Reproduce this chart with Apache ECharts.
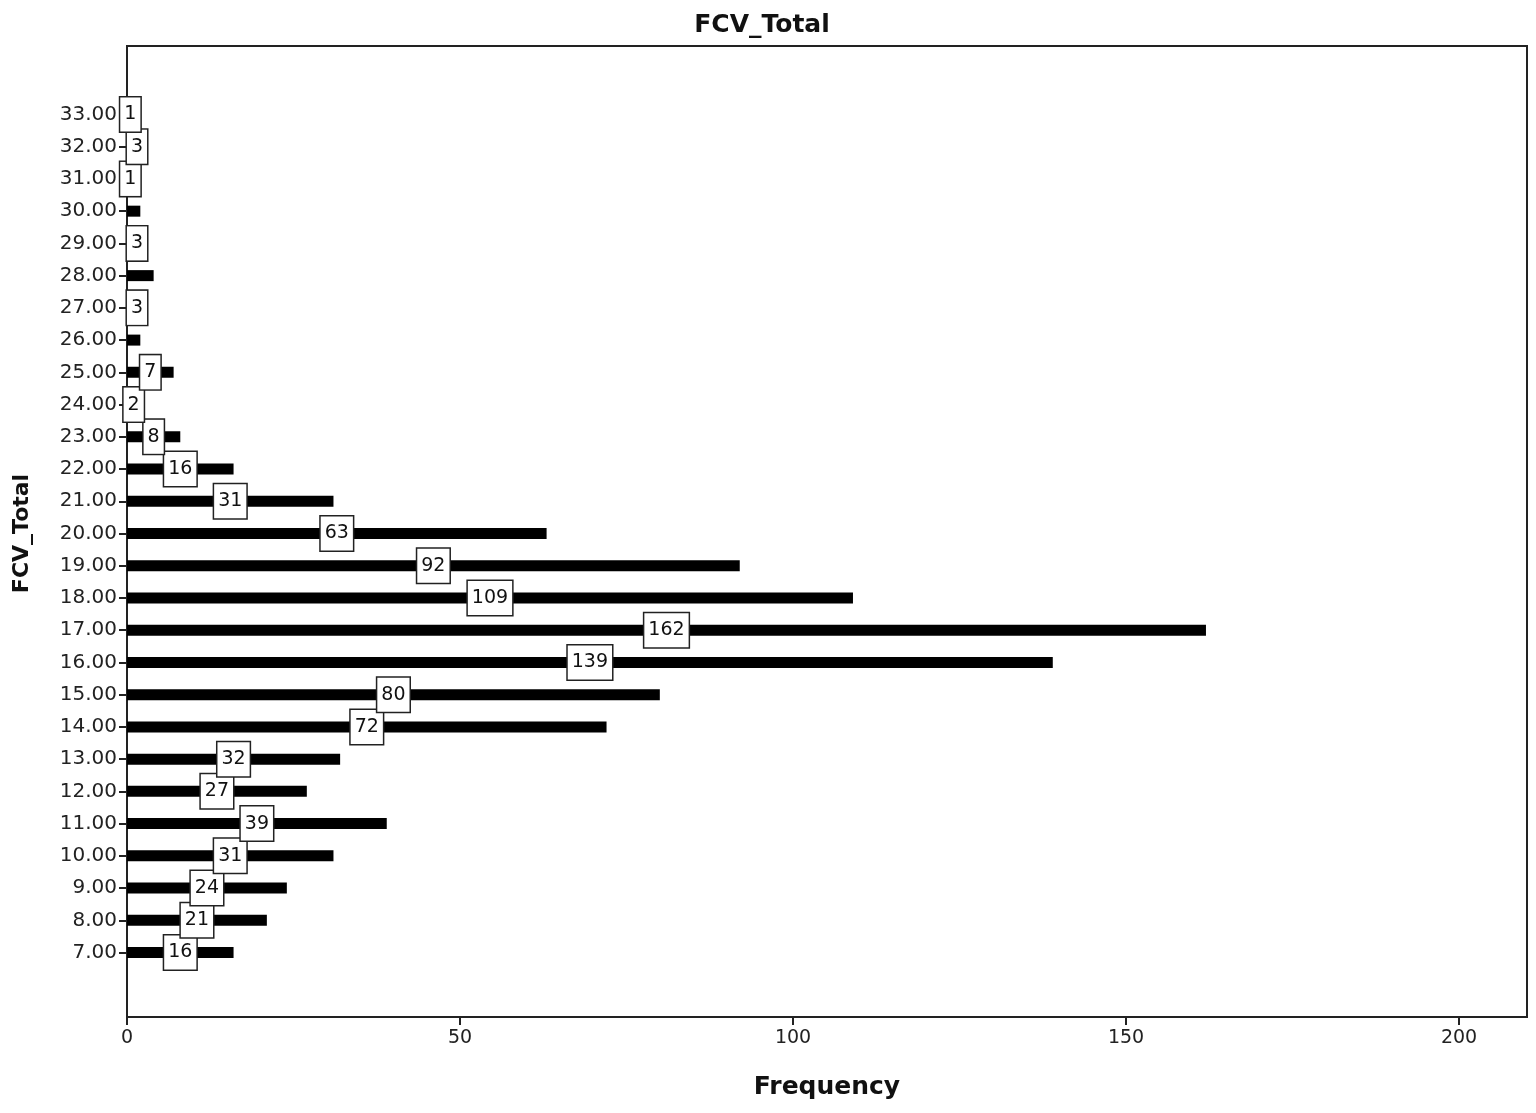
<!DOCTYPE html>
<html lang="en">
<head>
    <meta charset="UTF-8" />
    <title>FCV_Total</title>
    <script src="https://cdn.jsdelivr.net/npm/echarts@6/dist/echarts.min.js"></script>
    <style>
        html, body { margin: 0; padding: 0; background: #fff; }
        #chart { width: 1536px; height: 1113px; }
    </style>
</head>
<body>
    <div id="chart"></div>
    <script>
        // FCV_Total scores and how often each one occurs
        const scores = [7, 8, 9, 10, 11, 12, 13, 14, 15, 16, 17, 18, 19, 20,
                        21, 22, 23, 24, 25, 26, 27, 28, 29, 30, 31, 32, 33];
        const frequency = [16, 21, 24, 31, 39, 27, 32, 72, 80, 139, 162, 109, 92, 63,
                           31, 16, 8, 2, 7, 2, 3, 4, 3, 2, 1, 3, 1];
        // scores whose bar carries no count box in the original
        const unlabeled = [26, 28, 30];
        // empty rows the axis leaves below and above the data
        const padBelow = [5, 6];
        const padAbove = [34, 35];
        const xTicks = [0, 50, 100, 150, 200];

        const font = '"DejaVu Sans", Verdana, sans-serif';
        const chart = echarts.init(document.getElementById('chart'));

        const rows = padBelow.concat(scores, padAbove);
        const categories = rows.map(s => s.toFixed(2));
        const isScore = (idx) => scores.includes(rows[idx]);

        const barData = rows.map(s => {
            const i = scores.indexOf(s);
            if (i < 0) return '-';
            return { value: frequency[i], label: { show: !unlabeled.includes(s) } };
        });

        chart.setOption({
            animation: false,
            title: {
                text: 'FCV_Total',
                left: 757, top: 8, textAlign: 'center',
                textStyle: { fontFamily: font, fontSize: 25, fontWeight: 'bold', color: '#111' }
            },
            grid: [
                // outer frame of the plot
                { left: 127, right: 9, top: 46, bottom: 96,
                  show: true, borderColor: '#222', borderWidth: 2 },
                // data area (slightly shorter at the top)
                { left: 127, right: 9, top: 50, bottom: 96 }
            ],
            xAxis: {
                gridIndex: 1,
                type: 'value', min: 0, max: 210.2,
                splitLine: { show: false },
                axisLine: { show: true, lineStyle: { color: '#222', width: 2 } },
                axisTick: { show: true, length: 8, lineStyle: { color: '#222', width: 2 },
                    customValues: xTicks },
                axisLabel: { fontFamily: font, fontSize: 19, color: '#222', margin: 12,
                    customValues: xTicks },
                name: 'Frequency', nameLocation: 'middle', nameGap: 58,
                nameTextStyle: { fontFamily: font, fontSize: 25, fontWeight: 'bold', color: '#111' }
            },
            yAxis: {
                gridIndex: 1,
                type: 'category', data: categories, boundaryGap: false,
                axisLine: { show: true, lineStyle: { color: '#222', width: 2 } },
                axisTick: { show: true, length: 8, lineStyle: { color: '#222', width: 2 },
                    interval: (idx) => isScore(idx) },
                axisLabel: { fontFamily: font, fontSize: 20, color: '#222', margin: 10,
                    interval: (idx) => isScore(idx) },
                splitLine: { show: false },
                name: 'FCV_Total', nameLocation: 'middle', nameGap: 94, nameRotate: 90,
                nameTextStyle: { fontFamily: font, fontSize: 22, fontWeight: 'bold', color: '#111' }
            },
            series: [{
                type: 'bar',
                data: barData,
                barWidth: 11,
                itemStyle: { color: '#000' },
                label: {
                    position: 'inside',
                    fontFamily: font, fontSize: 19, color: '#111',
                    backgroundColor: '#fff', borderColor: '#222', borderWidth: 1.5,
                    padding: [8, 4, 7, 4]
                }
            }]
        });
    </script>
</body>
</html>
